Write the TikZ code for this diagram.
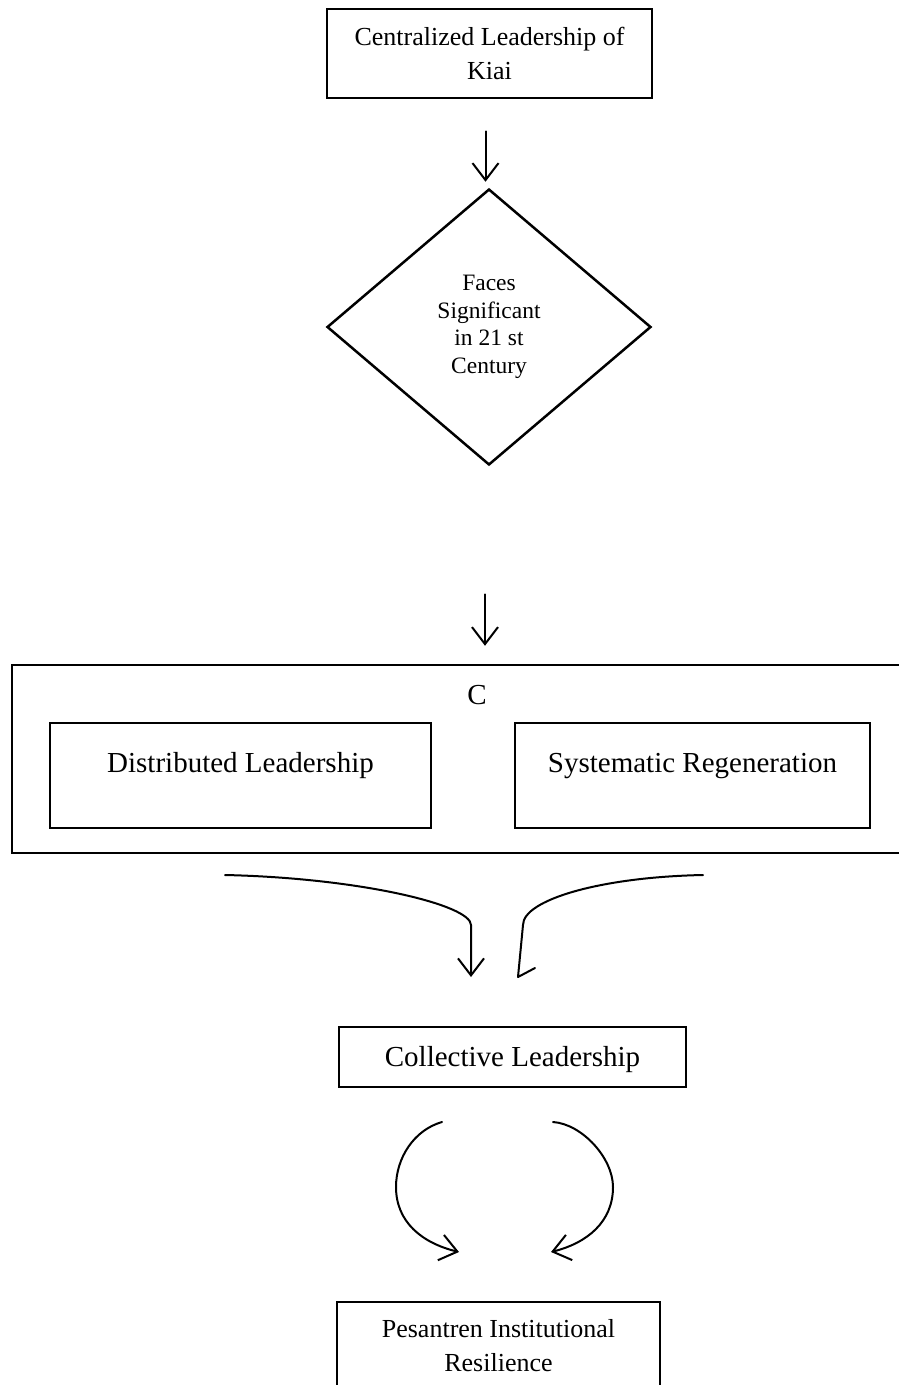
\documentclass[tikz,border=0pt]{standalone}
\usepackage{fontspec}
\setmainfont{Liberation Serif}
\usetikzlibrary{shapes.geometric,arrows.meta}
\begin{document}
\begin{tikzpicture}[x=1pt,y=-1pt,
  box/.style={draw, line width=2.5pt, rectangle, inner sep=0pt, align=center},
  arr/.style={line width=2pt, line cap=round, line join=round, -{Straight Barb[length=17pt,width=26pt]}},
  curve/.style={line width=2pt, line cap=round, line join=round},
  fa/.style={font=\fontsize{26}{34}\selectfont},
  fb/.style={font=\fontsize{23.5}{27.5}\selectfont},
  fc/.style={font=\fontsize{29}{34}\selectfont}]
\useasboundingbox (0,0) rectangle (899,1385);
\fill[white] (0,0) rectangle (899,1385);

\node[box, fa, minimum width=325pt, minimum height=89pt] (top) at (489.5,53.5) {Centralized Leadership of\\Kiai};
\node[draw, diamond, line width=2.5pt, minimum width=324pt, minimum height=276pt, inner sep=0pt, align=center, fb] (dia) at (489,327) {Faces\\Significant\\in 21 st\\Century};
\draw[arr, shorten <=32pt, shorten >=6pt] ([xshift=-4pt]top.south) -- ([xshift=-4pt]top.south |- dia.north);

\node[box, minimum width=893pt, minimum height=188pt] (outer) at (458.5,759) {};
\node[fc] (clab) at (477,695) {C};
\node[box, fc, minimum width=381pt, minimum height=105pt, text height=20pt, text depth=26pt] (dl) at (240.5,775.5) {Distributed Leadership};
\node[box, fc, minimum width=355pt, minimum height=105pt, text height=20pt, text depth=26pt] (sr) at (692.5,775.5) {Systematic Regeneration};
\draw[arr, shorten <=128pt, shorten >=18pt] ([xshift=-4pt]dia.south) -- ([xshift=-4pt]dia.south |- outer.north);

\coordinate (l1) at (225,875);
\coordinate (l2) at (471,977);
\coordinate (r1) at (703,875);
\coordinate (r2) at (518,977);
\draw[arr] (l1) .. controls (360,878) and (471,905) .. (471,925) -- (l2);
\draw[curve] (r1) .. controls (600,877) and (523,900) .. (523,925) -- (r2) -- (535,968);

\node[box, fc, minimum width=347pt, minimum height=60pt, text height=29pt, text depth=10pt] (cl) at (512.5,1057) {Collective Leadership};

\coordinate (c1) at (442,1122);
\coordinate (c2) at (459,1252);
\coordinate (d1) at (553,1122);
\coordinate (d2) at (551,1252);
\draw[arr] (c1) .. controls (414,1130) and (396,1158) .. (396,1187) .. controls (396,1222) and (422,1243) .. (c2);
\draw[arr] (d1) .. controls (582,1124) and (613,1158) .. (613,1187) .. controls (613,1222) and (587,1243) .. (d2);

\node[box, fa, minimum width=323pt, minimum height=88pt] (pir) at (498.5,1346) {Pesantren Institutional\\Resilience};
\end{tikzpicture}
\end{document}
